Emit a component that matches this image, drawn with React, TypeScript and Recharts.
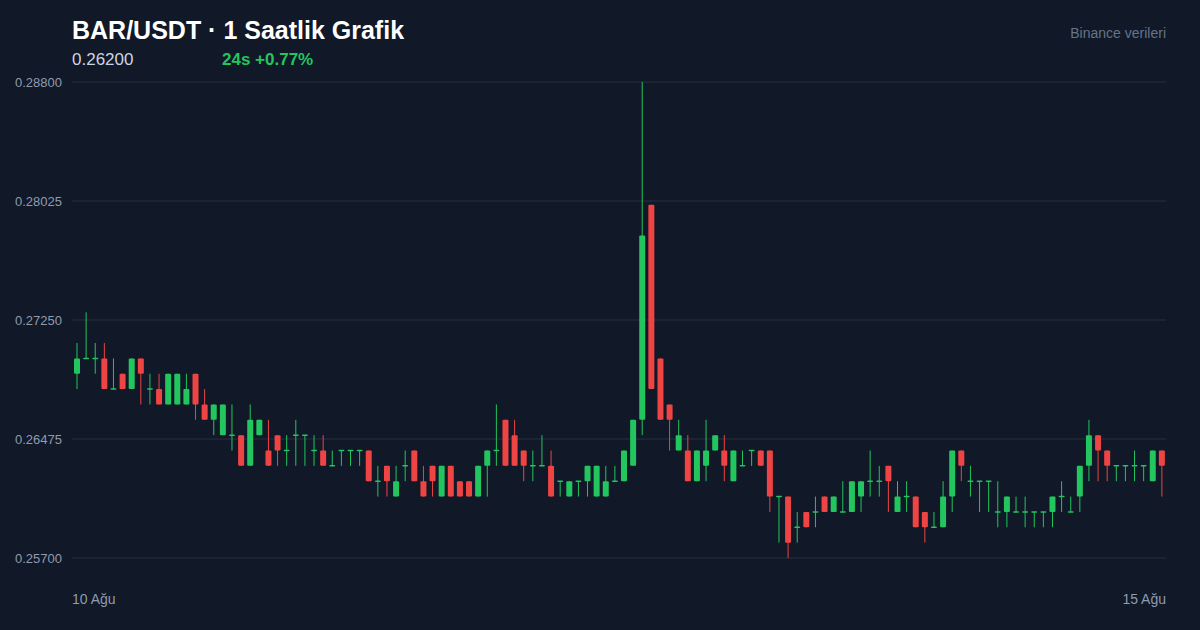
import React from 'react';
import { ComposedChart, Bar, XAxis, YAxis, CartesianGrid } from 'recharts';

const opens = [
  0.269, 0.270, 0.270, 0.270, 0.268, 0.269, 0.268, 0.270, 0.268, 0.268,
  0.267, 0.267, 0.267, 0.269, 0.267, 0.266, 0.265, 0.265, 0.265, 0.263,
  0.265, 0.264, 0.265, 0.264, 0.265, 0.265, 0.264, 0.264, 0.263, 0.264,
  0.264, 0.264, 0.264, 0.262, 0.263, 0.261, 0.263, 0.264, 0.262, 0.263,
  0.261, 0.263, 0.262, 0.262, 0.261, 0.263, 0.264, 0.266, 0.265, 0.264,
  0.263, 0.263, 0.263, 0.262, 0.261, 0.262, 0.262, 0.261, 0.261, 0.262,
  0.262, 0.263, 0.266, 0.280, 0.270, 0.267, 0.264, 0.264, 0.262, 0.263,
  0.264, 0.264, 0.262, 0.263, 0.264, 0.264, 0.264, 0.261, 0.261, 0.259,
  0.260, 0.260, 0.261, 0.260, 0.260, 0.260, 0.261, 0.262, 0.262, 0.263,
  0.260, 0.261, 0.261, 0.260, 0.259, 0.259, 0.261, 0.264, 0.262, 0.262,
  0.262, 0.260, 0.260, 0.260, 0.260, 0.260, 0.260, 0.260, 0.261, 0.260,
  0.261, 0.263, 0.265, 0.264, 0.263, 0.263, 0.263, 0.263, 0.262, 0.264,
];
const highs = [
  0.271, 0.273, 0.271, 0.271, 0.270, 0.269, 0.270, 0.270, 0.269, 0.269,
  0.269, 0.269, 0.269, 0.269, 0.268, 0.267, 0.267, 0.267, 0.265, 0.267,
  0.266, 0.266, 0.265, 0.265, 0.266, 0.265, 0.265, 0.265, 0.264, 0.264,
  0.264, 0.264, 0.264, 0.263, 0.263, 0.263, 0.264, 0.264, 0.263, 0.263,
  0.263, 0.263, 0.262, 0.262, 0.263, 0.264, 0.267, 0.266, 0.266, 0.264,
  0.264, 0.265, 0.264, 0.262, 0.262, 0.262, 0.263, 0.263, 0.263, 0.263,
  0.264, 0.266, 0.288, 0.280, 0.270, 0.267, 0.266, 0.265, 0.264, 0.266,
  0.265, 0.265, 0.264, 0.264, 0.264, 0.264, 0.264, 0.261, 0.261, 0.260,
  0.260, 0.261, 0.261, 0.261, 0.262, 0.262, 0.262, 0.264, 0.263, 0.263,
  0.262, 0.262, 0.261, 0.260, 0.260, 0.262, 0.264, 0.264, 0.263, 0.262,
  0.262, 0.262, 0.261, 0.261, 0.261, 0.260, 0.260, 0.261, 0.262, 0.261,
  0.263, 0.266, 0.265, 0.264, 0.263, 0.263, 0.264, 0.263, 0.264, 0.264,
];
const lows = [
  0.268, 0.270, 0.269, 0.268, 0.268, 0.268, 0.268, 0.267, 0.267, 0.267,
  0.267, 0.267, 0.267, 0.266, 0.266, 0.265, 0.265, 0.264, 0.263, 0.263,
  0.265, 0.263, 0.263, 0.263, 0.263, 0.263, 0.263, 0.263, 0.263, 0.263,
  0.263, 0.263, 0.262, 0.261, 0.261, 0.261, 0.262, 0.262, 0.261, 0.261,
  0.261, 0.261, 0.261, 0.261, 0.261, 0.261, 0.263, 0.263, 0.263, 0.262,
  0.262, 0.263, 0.261, 0.261, 0.261, 0.261, 0.261, 0.261, 0.261, 0.262,
  0.262, 0.263, 0.265, 0.268, 0.266, 0.264, 0.264, 0.262, 0.262, 0.262,
  0.264, 0.262, 0.262, 0.263, 0.263, 0.263, 0.260, 0.258, 0.257, 0.258,
  0.259, 0.259, 0.260, 0.260, 0.260, 0.260, 0.260, 0.261, 0.261, 0.260,
  0.260, 0.260, 0.259, 0.258, 0.259, 0.259, 0.260, 0.262, 0.261, 0.260,
  0.260, 0.259, 0.259, 0.260, 0.259, 0.259, 0.259, 0.259, 0.260, 0.260,
  0.260, 0.262, 0.262, 0.262, 0.262, 0.262, 0.262, 0.262, 0.262, 0.261,
];
const closes = [
  0.270, 0.270, 0.270, 0.268, 0.268, 0.268, 0.270, 0.269, 0.268, 0.267,
  0.269, 0.269, 0.268, 0.267, 0.266, 0.267, 0.267, 0.265, 0.263, 0.266,
  0.266, 0.263, 0.264, 0.264, 0.265, 0.265, 0.264, 0.263, 0.263, 0.264,
  0.264, 0.264, 0.262, 0.262, 0.262, 0.262, 0.263, 0.262, 0.261, 0.262,
  0.263, 0.261, 0.261, 0.261, 0.263, 0.264, 0.264, 0.263, 0.263, 0.263,
  0.263, 0.263, 0.261, 0.262, 0.262, 0.262, 0.263, 0.263, 0.262, 0.262,
  0.264, 0.266, 0.278, 0.268, 0.266, 0.266, 0.265, 0.262, 0.264, 0.264,
  0.265, 0.263, 0.264, 0.263, 0.264, 0.263, 0.261, 0.261, 0.258, 0.259,
  0.259, 0.260, 0.260, 0.261, 0.260, 0.262, 0.262, 0.262, 0.262, 0.262,
  0.261, 0.261, 0.259, 0.259, 0.259, 0.261, 0.264, 0.263, 0.262, 0.262,
  0.262, 0.260, 0.261, 0.260, 0.260, 0.260, 0.260, 0.261, 0.261, 0.260,
  0.263, 0.265, 0.264, 0.263, 0.263, 0.263, 0.263, 0.263, 0.264, 0.263,
];

const days = ['10 Ağu', '11 Ağu', '12 Ağu', '13 Ağu', '14 Ağu'];
const hours = Array.from({ length: 24 }, (_, h) => String(h).padStart(2, '0') + ':00');
const times: string[] = [];
days.forEach((d) => hours.forEach((h) => times.push(d + ' ' + h)));
const xTickLabels = ['10 Ağu', '15 Ağu'];
const yTicks = [0.288, 0.28025, 0.2725, 0.26475, 0.257];

const title = 'BAR/USDT · 1 Saatlik Grafik';
const priceText = '0.26200';
const changeText = '24s +0.77%';
const sourceText = 'Binance verileri';

const UP = '#22c55e';
const DOWN = '#ef4444';
const BG = '#111827';
const GRID = '#1f2937';
const AXIS_TEXT = '#8f9bb0';
const FONT = '"Liberation Sans", Arial, Helvetica, sans-serif';

const data = times.map((t, i) => ({
  t,
  open: opens[i],
  high: highs[i],
  low: lows[i],
  close: closes[i],
  range: [lows[i], highs[i]],
}));

const Candle = (props: any) => {
  const { x, y, width, height, payload } = props;
  if (!payload) return null;
  const { open, close, high, low } = payload;
  const span = high - low;
  const k = span > 0 ? height / span : 0;
  const yOf = (p: number) => y + (high - p) * k;
  const color = close >= open ? UP : DOWN;
  const cx = x + width / 2;
  const top = yOf(Math.max(open, close));
  const bot = yOf(Math.min(open, close));
  const bodyH = Math.max(bot - top, 1.5);
  return (
    <g>
      <line x1={cx} x2={cx} y1={y} y2={y + height} stroke={color} strokeWidth={1} />
      <rect x={x} y={bodyH > bot - top ? top - 0.75 : top} width={width} height={bodyH} fill={color} rx={1} ry={1} />
    </g>
  );
};

const XTick = (props: any) => {
  const { x, y, payload } = props;
  const first = payload && payload.value === times[0];
  const label = first ? xTickLabels[0] : xTickLabels[1];
  return (
    <text
      x={first ? x - 4.6 : x + 4.6}
      y={y + 46}
      textAnchor={first ? 'start' : 'end'}
      fill={AXIS_TEXT}
      fontSize={14}
      fontFamily={FONT}
    >
      {label}
    </text>
  );
};

export default function App() {
  return (
    <div
      style={{
        position: 'fixed',
        left: 0,
        top: 0,
        width: 1200,
        height: 630,
        background: BG,
        fontFamily: FONT,
        overflow: 'hidden',
      }}
    >
      <div style={{ position: 'absolute', left: 72, top: 15, color: '#ffffff', fontSize: 25, fontWeight: 700, lineHeight: '30px' }}>
        {title}
      </div>
      <div style={{ position: 'absolute', left: 72, top: 50, color: '#cbd5e1', fontSize: 17, lineHeight: '20px' }}>
        {priceText}
      </div>
      <div style={{ position: 'absolute', left: 222, top: 50, color: UP, fontSize: 17, fontWeight: 700, lineHeight: '20px' }}>
        {changeText}
      </div>
      <div style={{ position: 'absolute', right: 34, top: 24, color: '#64748b', fontSize: 14, lineHeight: '18px' }}>
        {sourceText}
      </div>
      <div style={{ position: 'absolute', left: 0, top: 0 }}>
        <ComposedChart
          width={1200}
          height={630}
          data={data}
          margin={{ top: 82, right: 34, bottom: 42, left: 0 }}
          barCategoryGap={0}
        >
          <CartesianGrid vertical={false} stroke={GRID} strokeWidth={1.5} />
          <XAxis
            dataKey="t"
            ticks={[times[0], times[times.length - 1]]}
            interval={0}
            tick={<XTick />}
            tickLine={false}
            axisLine={false}
            tickSize={0}
            tickMargin={0}
            height={30}
          />
          <YAxis
            domain={[0.257, 0.288]}
            ticks={yTicks}
            allowDataOverflow
            tickFormatter={(v: number) => v.toFixed(5)}
            tick={{ fill: AXIS_TEXT, fontSize: 13, fontFamily: FONT }}
            tickLine={false}
            axisLine={false}
            tickSize={0}
            tickMargin={10}
            width={72}
          />
          <Bar dataKey="range" barSize={6} shape={<Candle />} isAnimationActive={false} />
        </ComposedChart>
      </div>
    </div>
  );
}
